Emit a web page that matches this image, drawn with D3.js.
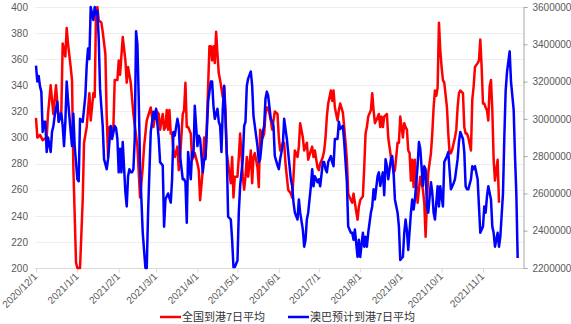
<!DOCTYPE html>
<html><head><meta charset="utf-8">
<script src="https://cdn.jsdelivr.net/npm/d3@7"></script>
<style>
html,body{margin:0;padding:0;background:#fff;}
svg{display:block;font-family:"Microsoft YaHei","Noto Sans CJK SC","Liberation Sans",sans-serif;}
</style></head>
<body><svg id="c" width="571" height="324"></svg>
<script>
// ---- data ----
const startDate = "2020-12-01";
const endDate = "2021-12-01";
const seriesNames = ["全国到港7日平均", "澳巴预计到港7日平均"];
const leftTicks = [200, 220, 240, 260, 280, 300, 320, 340, 360, 380, 400];
const rightTicks = [2200000, 2400000, 2600000, 2800000, 3000000, 3200000, 3400000, 3600000];
const xTickLabels = ["2020/12/1","2021/1/1","2021/2/1","2021/3/1","2021/4/1","2021/5/1","2021/6/1","2021/7/1","2021/8/1","2021/9/1","2021/10/1","2021/11/1"];

// days since startDate
const redDays = [0,1,3,5,8,9,11,13,15,17,19,20,22,23,24,26,27,28,30,31,33,35,36,38,40,41,43,44,45,46,47,49,50,52,53,54,55,56,58,59,61,62,63,65,67,68,69,71,73,76,78,80,81,83,86,88,90,92,93,95,96,97,98,99,100,101,102,103,104,106,107,108,110,111,112,113,114,116,117,118,119,121,122,123,125,126,127,128,129,130,131,132,133,134,135,136,137,138,140,141,142,143,144,146,147,148,149,151,152,153,155,156,157,158,159,161,162,163,164,166,167,168,170,171,172,173,174,176,177,178,179,181,182,183,185,186,187,188,189,191,192,193,194,196,197,198,200,201,202,203,204,206,207,208,209,211,212,213,215,216,217,218,219,221,222,223,224,226,227,228,230,231,232,233,234,236,237,238,239,241,242,243,245,246,247,248,249,251,252,253,254,255,257,258,259,260,261,263,264,266,267,268,269,271,272,273,275,276,277,278,279,280,281,282,283,284,286,287,288,290,291,292,293,294,296,297,298,299,300,301,302,303,304,305,306,308,309,310,311,312,314,315,316,317,318,320,321,322,323,324,326,327,328,329,331,332,333,334,335,336,337,338,339,340,341,342,343,344,346,347];
const redValues = [315,300,302,298,300,318,340,318,340,313,320,372,362,384,372,354,344,277,204,200,200,252,296,308,334,313,334,331,398,400,390,388,381,364,316,285,308,305,308,344,344,359,348,377,359,342,354,342,318,293,254,277,293,313,323,308,321,318,306,318,306,308,321,306,321,303,303,290,285,293,275,285,318,321,342,308,308,303,283,285,288,280,275,252,275,300,285,308,339,370,370,359,370,357,381,364,349,344,331,339,321,288,280,265,285,254,270,270,285,303,270,260,270,285,270,290,265,285,288,277,262,306,300,303,318,323,323,313,306,313,320,318,300,290,296,296,280,270,260,257,254,270,290,285,293,311,300,290,293,296,283,290,293,285,290,277,275,280,285,290,300,316,326,336,328,336,323,313,321,326,319,308,296,283,257,252,250,257,250,237,247,252,255,277,303,308,316,321,334,321,311,313,318,308,316,308,316,318,300,285,280,273,275,296,296,316,300,311,308,306,290,288,267,283,262,283,250,260,270,260,250,224,250,273,288,303,323,336,332,338,388,367,354,344,342,323,303,288,288,291,300,306,323,334,336,334,308,303,303,300,290,329,339,354,357,359,375,354,326,326,323,321,313,339,344,321,283,267,283,250];

const blueDays = [0,1,2,3,4,5,6,7,8,9,11,12,13,14,16,17,19,20,21,22,23,24,26,27,28,29,31,32,33,35,36,37,38,39,40,41,43,44,45,46,47,48,50,51,53,54,56,57,59,60,61,62,63,64,65,67,68,69,70,71,72,73,74,75,76,77,78,80,82,83,84,86,88,89,90,92,93,95,96,97,98,99,101,102,103,104,106,107,108,110,111,112,113,114,116,117,118,119,121,122,123,125,126,127,128,129,131,132,133,134,136,137,138,139,140,141,142,143,144,146,147,148,149,151,152,153,155,156,157,158,159,161,162,163,164,166,167,168,170,171,172,173,174,176,177,178,179,181,182,183,185,186,187,188,189,191,192,193,194,196,197,198,200,201,202,203,204,206,207,208,209,211,212,213,215,216,217,218,219,221,222,223,224,226,227,228,230,231,232,233,234,236,237,238,239,241,242,243,245,246,247,248,249,251,252,253,254,256,257,258,260,261,262,263,264,266,267,268,269,271,272,273,275,276,277,278,279,281,282,283,284,286,287,288,290,291,292,293,294,296,297,298,299,301,302,303,305,306,307,308,309,311,312,313,314,316,317,318,320,321,322,323,324,326,327,328,329,331,332,333,335,336,337,338,339,341,342,343,344,346,347,348,350,351,352,353,355,356,358,359,360,361];
const blueValues = [3286000,3200000,3230000,3173000,3146000,2930000,2984000,2984000,2822000,2900000,2822000,2930000,2960000,3016000,3092000,2984000,3030000,2962000,2854000,2984000,3200000,3100000,2930000,2854000,3027000,2854000,2676000,2665000,3000000,2984000,3054000,3124000,3286000,3378000,3320000,3600000,3530000,3600000,3560000,3580000,3432000,3162000,2962000,2784000,2730000,2784000,2962000,2892000,2962000,2950000,2892000,2713000,2840000,2713000,2876000,2605000,2530000,2692000,2730000,2713000,2713000,2730000,2892000,3470000,3400000,3108000,2746000,2389000,2200000,2200000,2497000,2930000,3038000,3000000,3054000,2892000,2768000,2750000,2422000,2567000,2585000,2600000,2551000,2676000,2930000,2910000,3000000,2962000,2800000,2676000,2676000,2660000,2443000,2822000,2676000,2822000,2800000,3070000,2854000,2910000,2892000,2713000,2784000,2784000,2930000,3092000,3200000,3200000,3070000,3000000,3054000,2984000,2962000,2822000,3054000,3178000,3000000,2800000,2476000,2460000,2351000,2205000,2205000,2240000,2497000,2640000,2784000,2962000,2984000,3178000,3216000,3254000,3178000,3016000,2962000,2854000,2768000,2784000,2930000,2962000,3108000,3146000,3124000,3000000,2984000,2962000,2800000,2750000,2730000,2784000,2860000,3000000,2946000,2892000,2822000,2676000,2640000,2551000,2497000,2460000,2568000,2497000,2406000,2314000,2350000,2460000,2497000,2638000,2730000,2638000,2692000,2660000,2676000,2638000,2768000,2768000,2730000,2713000,2768000,2800000,2768000,2746000,2892000,2892000,2984000,2946000,2962000,2876000,2768000,2660000,2422000,2389000,2389000,2351000,2406000,2259000,2351000,2259000,2389000,2314000,2367000,2314000,2389000,2497000,2530000,2622000,2568000,2692000,2713000,2640000,2713000,2590000,2784000,2746000,2676000,2784000,2800000,2713000,2568000,2497000,2422000,2243000,2260000,2389000,2460000,2400000,2297000,2497000,2568000,2514000,2568000,2746000,2876000,2840000,2640000,2746000,2730000,2530000,2497000,2660000,2605000,2497000,2460000,2638000,2530000,2638000,2530000,2768000,2784000,2800000,2822000,2622000,2638000,2655000,2676000,2784000,2876000,2930000,2892000,2822000,2638000,2622000,2622000,2676000,2746000,2730000,2746000,2676000,2530000,2389000,2422000,2530000,2497000,2584000,2638000,2568000,2422000,2389000,2314000,2389000,2314000,2367000,2600000,2900000,3150000,3250000,3362000,3200000,3050000,2800000,2600000,2254000];

if (redDays.length !== redValues.length || blueDays.length !== blueValues.length) {
  throw new Error("length mismatch red " + redDays.length + "/" + redValues.length + " blue " + blueDays.length + "/" + blueValues.length);
}

// ---- chart ----
const svg = d3.select("#c");
const parse = d3.timeParse("%Y-%m-%d");
const t0 = parse(startDate), t1 = parse(endDate);
const mLeft = 36, mRight = 523, mTop = 7, mBottom = 268;

const x = d3.scaleTime().domain([t0, t1]).range([mLeft, mRight]);
const yL = d3.scaleLinear().domain([200, 400]).range([mBottom, mTop]);
const yR = d3.scaleLinear().domain([2200000, 3600000]).range([mBottom, mTop]);

const red = redDays.map((d, i) => ({date: d3.timeDay.offset(t0, d), v: redValues[i]}));
const blue = blueDays.map((d, i) => ({date: d3.timeDay.offset(t0, d), v: blueValues[i]}));

// gridlines
svg.append("g").selectAll("line").data(leftTicks.slice(1)).join("line")
  .attr("x1", mLeft - 1).attr("x2", mRight)
  .attr("y1", d => Math.round(yL(d)) + 0.5).attr("y2", d => Math.round(yL(d)) + 0.5)
  .attr("stroke", "#eeeeee").attr("stroke-width", 1);

// left axis labels
const gL = svg.append("g").attr("transform", `translate(${mLeft - 1},0)`)
  .call(d3.axisLeft(yL).tickValues(leftTicks).tickSize(0).tickPadding(7));
gL.select(".domain").remove();
gL.selectAll("text").attr("fill", "#595959").style("font-size", "10px");

// right axis
const gR = svg.append("g").attr("transform", `translate(${mRight + 0.5},0)`)
  .call(d3.axisRight(yR).tickValues(rightTicks).tickSize(4).tickPadding(5).tickFormat(d3.format("d")));
gR.select(".domain").attr("stroke", "#a6a6a6");
gR.selectAll(".tick line").attr("stroke", "#a6a6a6");
gR.selectAll("text").attr("fill", "#595959").style("font-size", "10px");

// bottom axis
const parseTick = d3.timeParse("%Y/%m/%d");
const months = xTickLabels.map(s => parseTick(s));
const gX = svg.append("g").attr("transform", `translate(0,${mBottom + 0.5})`)
  .call(d3.axisBottom(x).tickValues(months).tickSize(4).tickFormat((d, i) => xTickLabels[i]));
gX.select(".domain").attr("stroke", "#d9d9d9").attr("d", `M${mLeft - 1},0H${mRight}`);
gX.selectAll(".tick line").attr("stroke", "#d9d9d9");
gX.selectAll("text").attr("fill", "#595959").style("font-size", "10px")
  .attr("text-anchor", "end").attr("dy", "0.35em")
  .attr("transform", "translate(-1,6) rotate(-45)").attr("y", 0).attr("x", 0);

// clip
svg.append("clipPath").attr("id", "clip").append("rect")
  .attr("x", mLeft - 3).attr("y", mTop - 3).attr("width", mRight - mLeft + 3).attr("height", mBottom - mTop + 5);

const lineL = d3.line().x(d => x(d.date)).y(d => yL(d.v));
const lineR = d3.line().x(d => x(d.date)).y(d => yR(d.v));

const plot = svg.append("g").attr("clip-path", "url(#clip)");
plot.append("path").datum(red).attr("d", lineL)
  .attr("fill", "none").attr("stroke", "#ff0000").attr("stroke-width", 2.5).attr("stroke-linejoin", "round");
plot.append("path").datum(blue).attr("d", lineR)
  .attr("fill", "none").attr("stroke", "#0000ff").attr("stroke-width", 2.5).attr("stroke-linejoin", "round");

// legend
const legend = [
  {name: seriesNames[0], color: "#ff0000", x: 160},
  {name: seriesNames[1], color: "#0000ff", x: 288}
];
const lg = svg.append("g");
legend.forEach(l => {
  lg.append("line").attr("x1", l.x).attr("x2", l.x + 21).attr("y1", 317).attr("y2", 317)
    .attr("stroke", l.color).attr("stroke-width", 2.5);
  lg.append("text").attr("x", l.x + 22).attr("y", 317).attr("dy", "0.35em")
    .attr("fill", "#333").style("font-size", "11px").text(l.name);
});
</script></body></html>
